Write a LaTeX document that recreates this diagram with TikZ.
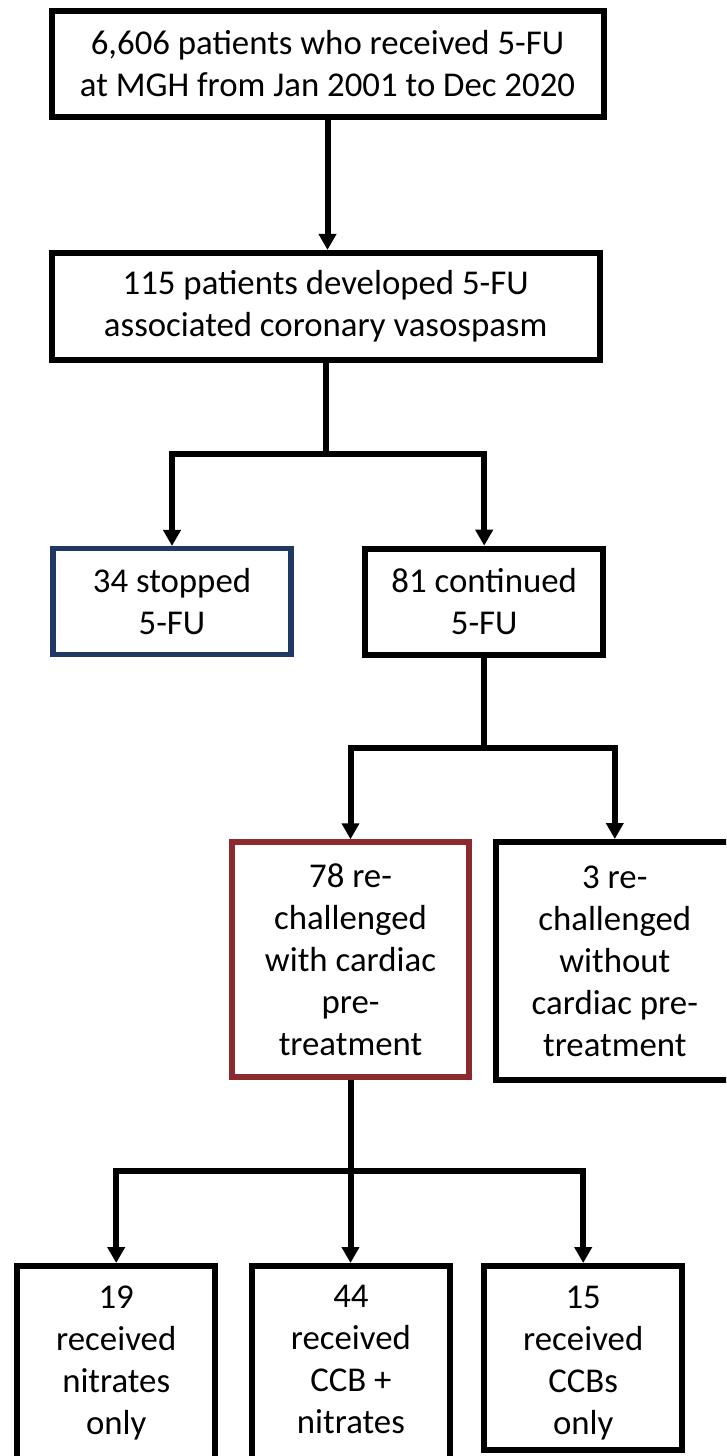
\documentclass[tikz,border=0pt]{standalone}
\usepackage{fontspec}
\setmainfont{Carlito}
\usetikzlibrary{arrows.meta}
\definecolor{boxblue}{RGB}{31,56,100}
\definecolor{boxred}{RGB}{140,42,46}
\begin{document}
\begin{tikzpicture}[x=1pt,y=-1pt,
  box/.style={draw=black, line width=6pt, rectangle, inner sep=0pt, align=center,
    font=\fontsize{34.8}{42}\selectfont, text=black, line join=miter},
  bluebox/.style={box, draw=boxblue, line width=5.5pt},
  redbox/.style={box, draw=boxred, line width=5.5pt},
  conn/.style={line width=6pt, line join=miter, draw=black},
  arr/.style={conn, -{Triangle[width=17pt,length=16pt]}}]
\useasboundingbox (0,0) rectangle (726,1456);
\fill[white] (0,0) rectangle (726,1456);
\clip (0,0) rectangle (726,1456);

\node[box, minimum width=552pt, minimum height=106pt] (A) at (327.5,64)
  {6,606 patients who received 5-FU\\at MGH from Jan 2001 to Dec 2020};
\node[box, minimum width=548pt, minimum height=106.7pt] (B) at (325.7,306.3)
  {115 patients developed 5-FU\\associated coronary vasospasm};
\node[bluebox, minimum width=238pt, minimum height=106pt] (C) at (172,601.7)
  {34 stopped\\5-FU};
\node[box, minimum width=238.5pt, minimum height=106pt] (D) at (484.2,601.7)
  {81 continued\\5-FU};
\node[redbox, minimum width=237pt, minimum height=235pt] (E) at (350.5,959.5)
  {78 re-\\challenged\\with cardiac\\pre-\\treatment};
\node[box, minimum width=237.6pt, minimum height=238pt] (F) at (614.8,961)
  {3 re-\\challenged\\without\\cardiac pre-\\treatment};
\node[box, minimum width=198.5pt, minimum height=194pt] (G1) at (116.2,1363)
  {19\\received\\nitrates\\only};
\node[box, minimum width=198pt, minimum height=194pt] (G2) at (350.9,1363)
  {44\\received\\CCB +\\nitrates\rule[-7.5pt]{0pt}{1pt}};
\node[box, minimum width=197.5pt, minimum height=184pt] (G3) at (583.2,1358)
  {\rule{0pt}{32pt}15\\received\\CCBs\\only};

% connectors
\draw[arr] (A.south) -- (A.south |- B.north);

\path (B.south) ++(0,91) coordinate (j1);
\draw[arr] (B.south) -- (j1) -| (C.north);
\draw[arr] (j1) -| (D.north);

\path (D.south) ++(0,90) coordinate (j2);
\draw[arr] (D.south) -- (j2) -| (E.north);
\draw[arr] (j2) -| (F.north);

\path (E.south) ++(0,91) coordinate (j3);
\draw[arr] (E.south) -- (j3) -| (G1.north);
\draw[arr] (j3) -| (G3.north);
\draw[arr] (j3) -- (j3 |- G2.north);
\end{tikzpicture}
\end{document}
